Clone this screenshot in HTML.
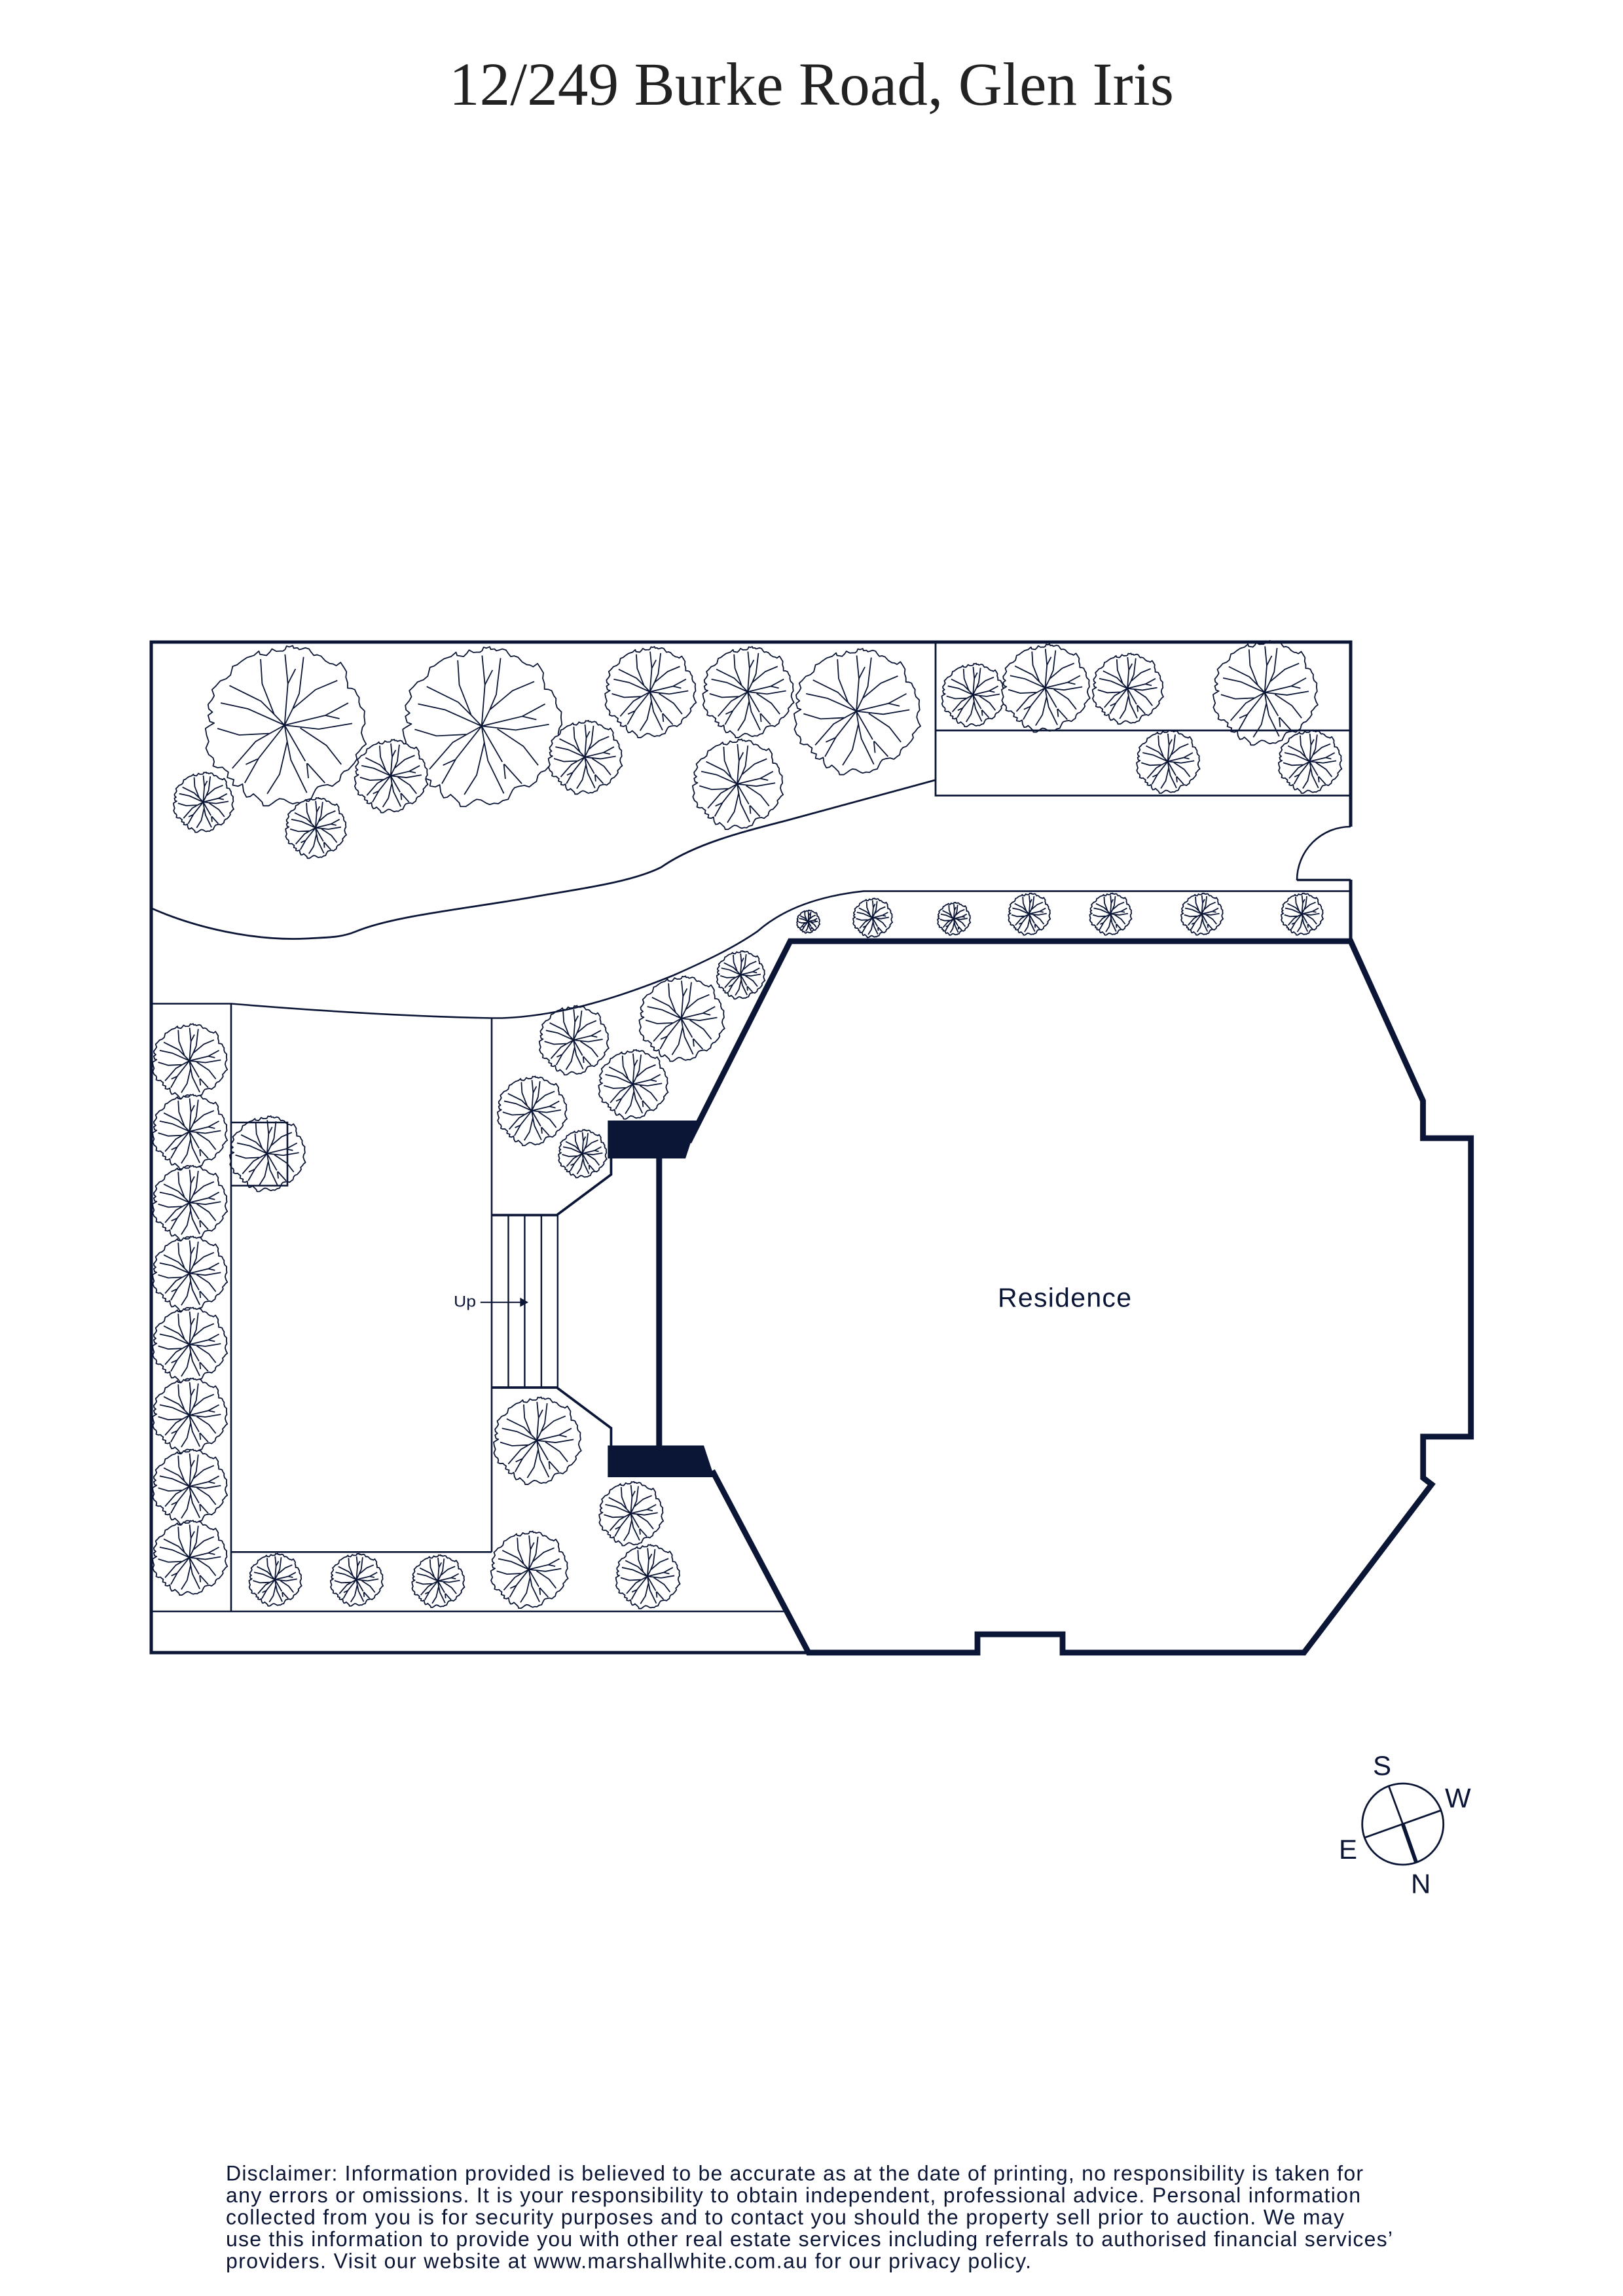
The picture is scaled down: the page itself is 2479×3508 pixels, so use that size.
<!DOCTYPE html>
<html><head><meta charset="utf-8"><style>
html,body{margin:0;padding:0;background:#fff}
svg{display:block}
text{font-family:"Liberation Sans",sans-serif;fill:#0b1535}
.o{fill:#fff;stroke:#0b1535;stroke-width:1.8;stroke-linejoin:round;vector-effect:non-scaling-stroke}
.b{fill:none;stroke:#0b1535;stroke-width:1.8;vector-effect:non-scaling-stroke}
</style></head><body>
<svg xmlns="http://www.w3.org/2000/svg" width="2479" height="3508" viewBox="0 0 2479 3508">
<rect width="2479" height="3508" fill="#fff"/>
<defs><g id="t"><g transform="translate(-403 -385)">
<polygon class="o" points="405,38 412,22 425,26 440,20 445,32 462,30 470,38 480,36 498,30 515,35 525,50 537,65 552,62 570,68 590,90 610,102 625,104 640,112 660,97 675,120 687,140 684,165 692,190 692,215 710,216 725,222 735,245 745,258 744,280 750,300 770,320 768,345 772,378 760,395 755,420 765,450 777,472 760,485 745,505 730,520 735,540 722,560 695,590 675,597 662,612 655,640 640,650 622,665 600,658 575,662 555,668 545,680 535,700 525,722 500,728 480,742 460,740 440,746 425,740 400,725 380,722 365,730 345,745 330,755 305,755 300,738 280,718 260,700 245,712 228,715 215,690 210,655 190,665 165,660 170,635 140,625 145,600 130,590 118,578 95,580 75,572 80,552 75,535 55,520 42,490 55,460 45,430 40,400 55,390 80,375 60,368 52,340 72,325 55,310 52,290 70,268 80,250 70,222 88,205 108,182 135,172 155,155 165,115 185,108 205,92 230,75 262,65 285,45 290,60 320,65 335,50 345,35 365,46 380,45 395,45"/>
<path class="b" d="M403,385L418,195L405,60M418,195L453,127M403,385L440,310L470,240L490,72M440,310L545,222L645,180M403,385L355,335L300,195L293,82M355,335L295,275L150,203M403,385L235,310L110,283M403,385L590,340L695,283M590,340L655,355M403,385L560,403L713,377M475,398L595,478L663,565M403,385L335,423L195,430L95,400M335,423L270,460L163,583M403,385L285,535L220,650M280,540L225,565M403,385L415,460L380,610L323,700M415,460L432,545L505,695M403,385L498,550M507,560L588,650M505,560L512,628"/>
</g></g></defs>

<!-- trees -->
<use href="#t" transform="translate(434.7 1108) scale(.333)"/>
<use href="#t" transform="translate(735.7 1109.4) scale(.332)"/>
<use href="#t" transform="translate(310.3 1225.4) scale(.125)"/>
<use href="#t" transform="translate(481.9 1264.7) scale(.126)"/>
<use href="#t" transform="translate(596.7 1185.3) scale(.152)"/>
<use href="#t" transform="translate(893.2 1156.7) scale(.153)"/>
<use href="#t" transform="translate(992.7 1057) scale(.189)"/>
<use href="#t" transform="translate(1142 1057) scale(.189)"/>
<use href="#t" transform="translate(1126 1197.8) scale(.1875)"/>
<use href="#t" transform="translate(1308 1086.6) scale(.262)"/>
<use href="#t" transform="translate(1486.2 1061.6) scale(.1315)"/>
<use href="#t" transform="translate(1722 1051.8) scale(.147)"/>
<use href="#t" transform="translate(1596.4 1050.9) scale(.183)"/>
<use href="#t" transform="translate(1931.7 1058) scale(.217)"/>
<use href="#t" transform="translate(1783.6 1163.4) scale(.131)"/>
<use href="#t" transform="translate(2000.4 1163.4) scale(.131)"/>
<use href="#t" transform="translate(1234.4 1408) scale(.0475)"/>
<use href="#t" transform="translate(1332.6 1402.2) scale(.0815)"/>
<use href="#t" transform="translate(1456.8 1403.6) scale(.068)"/>
<use href="#t" transform="translate(1571.8 1396.4) scale(.087)"/>
<use href="#t" transform="translate(1696 1396.4) scale(.087)"/>
<use href="#t" transform="translate(1835.6 1396.4) scale(.087)"/>
<use href="#t" transform="translate(1988.5 1396.4) scale(.087)"/>
<use href="#t" transform="translate(1131 1489.3) scale(.1)"/>
<use href="#t" transform="translate(1040.6 1556) scale(.177)"/>
<use href="#t" transform="translate(876 1589) scale(.144)"/>
<use href="#t" transform="translate(966.6 1656.4) scale(.144)"/>
<use href="#t" transform="translate(812.2 1697) scale(.144)"/>
<use href="#t" transform="translate(889.4 1762.4) scale(.1)"/>
<use href="#t" transform="translate(819.9 2200.8) scale(.1815)"/>
<use href="#t" transform="translate(963.4 2312.3) scale(.133)"/>
<use href="#t" transform="translate(988.9 2408.5) scale(.133)"/>
<use href="#t" transform="translate(807.8 2397.9) scale(.16)"/>
<use href="#t" transform="translate(420 2413.4) scale(.109)"/>
<use href="#t" transform="translate(544.4 2413.4) scale(.109)"/>
<use href="#t" transform="translate(668.8 2415.5) scale(.109)"/>
<use href="#t" transform="translate(289.3 1620.7) scale(.155)"/>
<use href="#t" transform="translate(289.3 1728.7) scale(.155)"/>
<use href="#t" transform="translate(289.3 1837.4) scale(.155)"/>
<use href="#t" transform="translate(289.3 1945.5) scale(.155)"/>
<use href="#t" transform="translate(289.3 2054.2) scale(.155)"/>
<use href="#t" transform="translate(289.3 2162.2) scale(.155)"/>
<use href="#t" transform="translate(289.3 2271) scale(.155)"/>
<use href="#t" transform="translate(289.3 2379.7) scale(.155)"/>
<use href="#t" transform="translate(407.9 1762.4) scale(.157)"/>

<g fill="none" stroke="#0b1535" stroke-linejoin="miter">
<!-- boundary -->
<path stroke-width="5" d="M2063,1263V981H231V2525H1236"/>
<path stroke-width="5" d="M2063,1344V1438"/>
<path stroke-width="3.6" d="M1981,1344.5H2063"/>
<path stroke-width="2.6" d="M2063,1263A82,82 0 0 0 1981,1345"/>
<!-- planters -->
<path stroke-width="2.8" d="M1429,1192V981M1429,1192V1215.5H2063M1429,1116H2063"/>
<path stroke-width="2.8" d="M232,1388C300,1418 390,1438 468,1434C500,1432 520,1433 544,1423C600,1400 700,1390 806,1372C870,1360 960,1350 1010,1325C1060,1290 1130,1272 1200,1254L1428,1192"/>
<path stroke-width="2.6" d="M231,1533.5H353C480,1544 620,1553 751,1555.5H767C860,1552 950,1522 1029,1490C1090,1463 1125,1445 1157,1423C1200,1385 1260,1368 1319,1361.6H2063"/>
<path stroke-width="2.6" d="M353,1533.5V2462M231,2462H1200M353,2371.3H751M751,1555.5V2371.3"/>
<path stroke-width="2.6" d="M353,1715H439V1811.5H353"/>
<!-- stairs -->
<path stroke-width="2.4" d="M776.5,1856V2120M801.4,1856V2120M826.9,1856V2120M851.8,1856V2120"/>
<path stroke-width="3.8" d="M751,1856.5H850.5L933.4,1794.6V1765M751,2120H850.5L933.4,2182V2215"/>
<!-- residence -->
<path stroke-width="8.8" d="M1052,1745L1207,1438H2063L2173.5,1682V1739H2246.7V2195H2173.7V2258L2186.7,2268L1991.7,2525H1623V2497H1493V2525H1235L1088,2247"/>
<path stroke-width="9" d="M1006.8,1765V2215"/>
<path stroke-width="2" d="M733.8,1989.7H796"/>
<!-- compass -->
<circle cx="2142.7" cy="2787" r="62" stroke-width="2.8"/>
<path stroke-width="2.8" d="M2121,2728.3L2142.7,2787M2201,2766L2084.3,2807.7"/>
<path stroke-width="5.8" d="M2142.7,2787L2163.3,2846"/>
</g>
<polygon fill="#0b1535" points="928.3,1712 1066,1712 1047,1770 928.3,1770"/>
<polygon fill="#0b1535" points="928.3,2208.5 1075,2208.5 1091,2257 928.3,2257"/>
<polygon fill="#0b1535" points="794.4,1982.6 807,1989.7 794.4,1996.7"/>

<text x="693" y="1996.7" font-size="24" textLength="34" lengthAdjust="spacingAndGlyphs">Up</text>
<text x="1524" y="1996.7" font-size="41" textLength="204" lengthAdjust="spacing">Residence</text>
<text x="2097" y="2712" font-size="42">S</text>
<text x="2207" y="2761.7" font-size="42">W</text>
<text x="2045" y="2840" font-size="42">E</text>
<text x="2155" y="2892.7" font-size="42">N</text>

<text x="686" y="160" font-size="93" textLength="1107" lengthAdjust="spacing" style="font-family:'Liberation Serif',serif;fill:#222">12/249 Burke Road, Glen Iris</text>

<g font-size="32">
<text x="345" y="3331.7" textLength="1737" lengthAdjust="spacing">Disclaimer: Information provided is believed to be accurate as at the date of printing, no responsibility is taken for</text>
<text x="345" y="3365.2" textLength="1733" lengthAdjust="spacing">any errors or omissions. It is your responsibility to obtain independent, professional advice. Personal information</text>
<text x="345" y="3398.7" textLength="1708" lengthAdjust="spacing">collected from you is for security purposes and to contact you should the property sell prior to auction. We may</text>
<text x="345" y="3432.2" textLength="1782" lengthAdjust="spacing">use this information to provide you with other real estate services including referrals to authorised financial services’</text>
<text x="345" y="3465.7" textLength="1230" lengthAdjust="spacing">providers. Visit our website at www.marshallwhite.com.au for our privacy policy.</text>
</g>
</svg>
</body></html>
